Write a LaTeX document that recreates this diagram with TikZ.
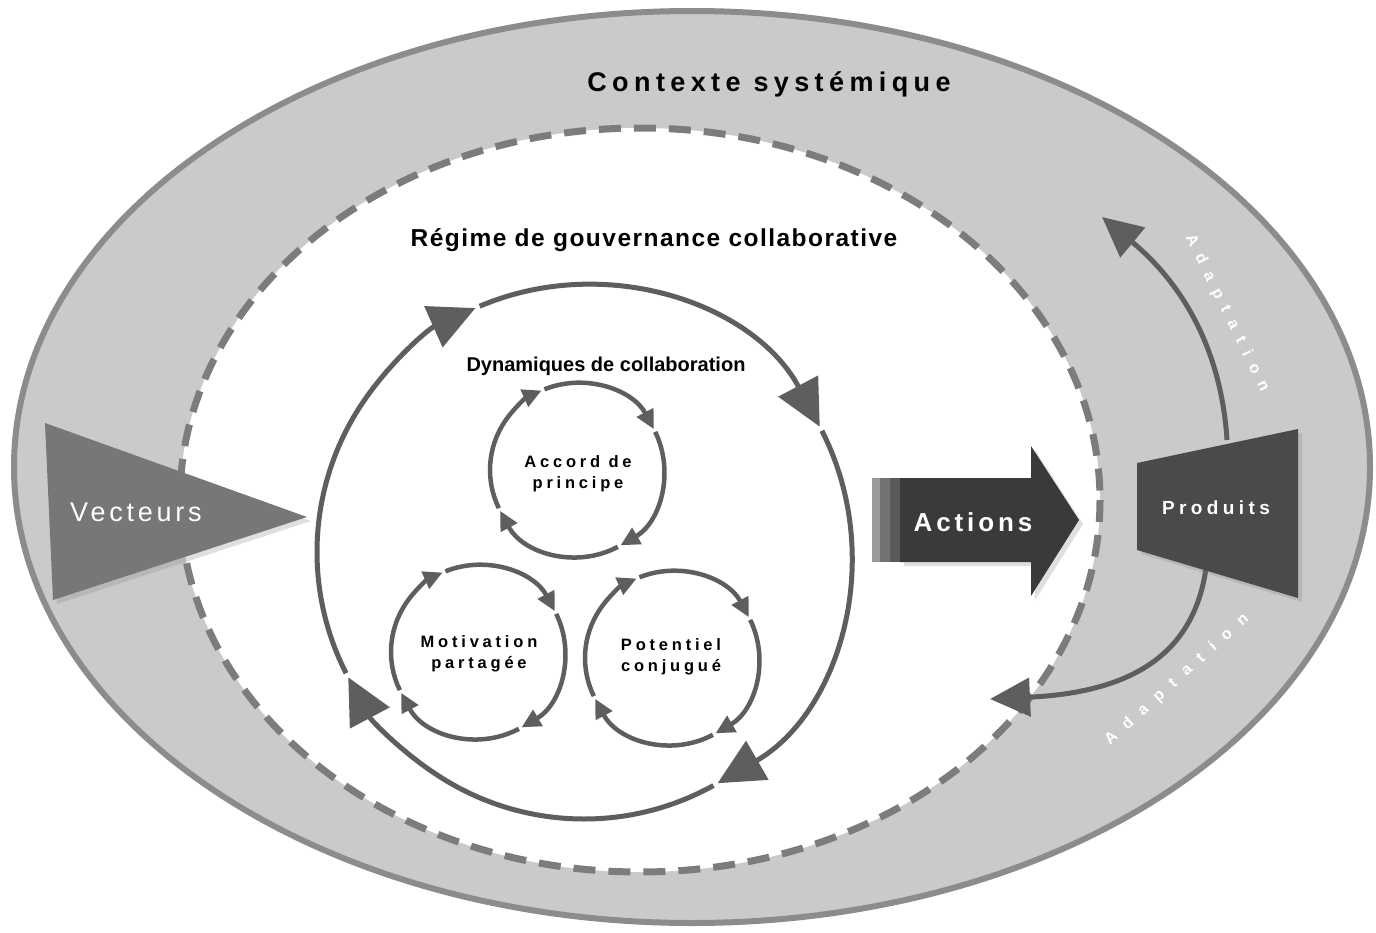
\documentclass[tikz,border=0pt]{standalone}
\usepackage{fontspec}
\setmainfont{Liberation Sans}
\usepackage{tikz}
\usetikzlibrary{arrows.meta}
\usetikzlibrary{positioning}
\usetikzlibrary{shadows}
\definecolor{ringgray}{HTML}{CACACA}
\definecolor{rimgray}{HTML}{8C8C8C}
\definecolor{dashgray}{HTML}{7C7C7C}
\definecolor{arcgray}{HTML}{6C6C6C}
\definecolor{headgray}{HTML}{5E5E5E}
\definecolor{vecgray}{HTML}{777777}
\definecolor{actgray}{HTML}{3A3A3A}
\definecolor{prodgray}{HTML}{4A4A4A}

\begin{document}
\begin{tikzpicture}[x=1pt,y=-1pt,
    big arc/.style={->,>={Triangle[length=46pt,width=44pt]},line width=5pt,draw=arcgray,color=headgray},
    small arc/.style={->,>={Triangle[length=19pt,width=18pt]},line width=4.5pt,draw=arcgray,color=headgray},
    adapt arc/.style={->,>={Triangle[length=40pt,width=38pt]},line width=5pt,draw=arcgray,color=headgray},
    soft shadow/.style={drop shadow={shadow xshift=4pt,shadow yshift=-4pt,opacity=0.25}},
    cycle label/.style={align=center,font=\fontsize{16.5}{21}\selectfont\bfseries\addfontfeatures{LetterSpace=23}},
    title label/.style={anchor=base,font=\bfseries},
    white label/.style={anchor=base,text=white}]
  \useasboundingbox (0,0) rectangle (1376,932);
  % contexte systemique
  \draw[fill=ringgray,draw=rimgray,line width=6pt] (692,467) ellipse [x radius=678, y radius=456];
  % regime
  \fill[white] (640,500) ellipse [x radius=460, y radius=372];
  \draw[dashgray,line width=7pt,dash pattern=on 22pt off 13pt] (640,500) ellipse [x radius=460, y radius=372];

  % adaptation loops
  \coordinate (upstart) at (1227,440);
  \coordinate (upend) at (1102,217);
  \coordinate (lowstart) at (1207,560);
  \coordinate (lowend) at (990,699);
  \draw[adapt arc] (upstart) .. controls (1222,360) and (1190,290) .. (upend);
  \draw[adapt arc] (lowstart) .. controls (1198,648) and (1140,692) .. (lowend);

  % produits / actions / vecteurs
  \fill[prodgray,soft shadow] (1137,463) -- (1298,429) -- (1298,598) -- (1137,550) -- cycle;
  \fill[gray!80] (872,478) rectangle (880,562);
  \fill[gray!110] (880,478) rectangle (890,562);
  \fill[black!65] (890,478) rectangle (900,562);
  \fill[actgray,soft shadow] (900,478) -- (1031,478) -- (1031,446) -- (1079,520) -- (1031,596) -- (1031,562) -- (900,562) -- cycle;
  \fill[vecgray,soft shadow] (45,423) -- (307,517) -- (53,600) -- cycle;

  % dynamiques de collaboration
  \coordinate (dyncenter) at (584,552);
  \foreach \s/\e in {-207/-114,-113/-28,-27/60,61/152}
    \draw[big arc] (dyncenter) ++(\s:267) arc[start angle=\s, end angle=\e, radius=267];
  \coordinate (accord) at (577,470);
  \coordinate (motiv) at (478,652);
  \coordinate (potent) at (672,658);
  \foreach \c in {accord,motiv,potent}
    \foreach \s/\e in {-206/-114,-112/-28,-26/60,62/152}
      \draw[small arc] (\c) ++(\s:87) arc[start angle=\s, end angle=\e, radius=87];

  % texts
  \node[title label,font=\fontsize{27}{32}\selectfont\bfseries\addfontfeatures{LetterSpace=20}] (ctxtxt) at (769,91) {Contexte systémique};
  \node[title label,font=\fontsize{24.5}{28}\selectfont\bfseries\addfontfeatures{LetterSpace=6}] (regimetxt) at (654,246) {Régime de gouvernance collaborative};
  \node[title label,font=\fontsize{20}{24}\selectfont\bfseries] (dyntxt) at (606,371) {Dynamiques de collaboration};
  \node[cycle label] (accordtxt) at (578,474) {Accord de\\principe};
  \node[cycle label] (motivtxt) at (479,654) {Motivation\\partagée};
  \node[cycle label] (potenttxt) at (671,657) {Potentiel\\conjugué};
  \node[white label,font=\fontsize{27}{30}\selectfont\addfontfeatures{LetterSpace=14}] (vectxt) at (136,521) {Vecteurs};
  \node[white label,font=\fontsize{26}{30}\selectfont\bfseries\addfontfeatures{LetterSpace=15}] (acttxt) at (973,531) {Actions};
  \node[white label,font=\fontsize{19}{22}\selectfont\bfseries\addfontfeatures{LetterSpace=23}] (prodtxt) at (1216,514) {Produits};
  \node[text=white,rotate=-64,font=\fontsize{16}{18}\selectfont\bfseries\addfontfeatures{LetterSpace=62}] (adapttop) at (1227,313) {Adaptation};
  \node[text=white,rotate=42,font=\fontsize{16}{18}\selectfont\bfseries\addfontfeatures{LetterSpace=72}] (adaptlow) at (1177,680) {Adaptation};
\end{tikzpicture}
\end{document}
